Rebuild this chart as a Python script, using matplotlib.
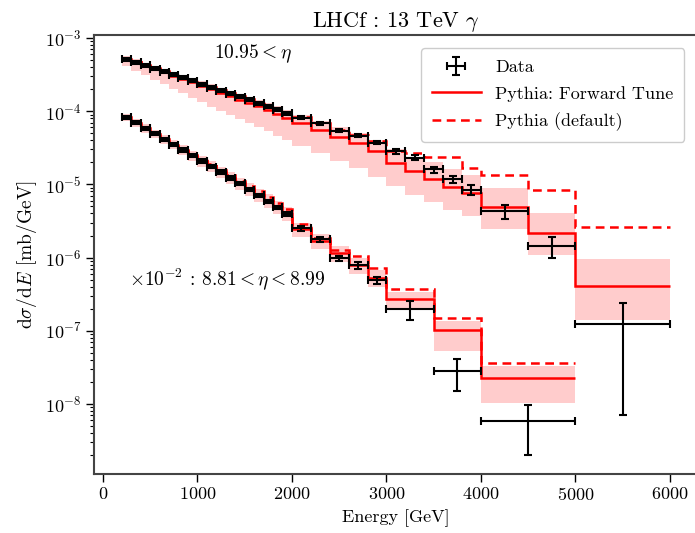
import numpy as np
import matplotlib
matplotlib.use("Agg")
import matplotlib.pyplot as plt

plt.rcParams['font.family'] = 'serif'
plt.rcParams['font.serif'] = ['cmr10', 'DejaVu Serif']
plt.rcParams['mathtext.fontset'] = 'cm'
plt.rcParams['axes.formatter.use_mathtext'] = True

# --- 10.95 < eta : bin edges [GeV] and dsigma/dE [mb/GeV]
edges_hi = [200, 300, 400, 500, 600, 700, 800, 900, 1000, 1100, 1200, 1300, 1400,
            1500, 1600, 1700, 1800, 1900, 2000, 2200, 2400, 2600, 2800, 3000, 3200,
            3400, 3600, 3800, 4000, 4500, 5000, 6000]
data_hi = [5.14e-4, 4.68e-4, 4.26e-4, 3.81e-4, 3.47e-4, 3.16e-4, 2.87e-4, 2.61e-4,
           2.34e-4, 2.10e-4, 1.91e-4, 1.74e-4, 1.58e-4, 1.44e-4, 1.29e-4, 1.16e-4,
           1.05e-4, 9.4e-5, 8.2e-5, 6.8e-5, 5.4e-5, 4.65e-5, 3.73e-5, 2.84e-5,
           2.31e-5, 1.60e-5, 1.17e-5, 8.5e-6, 4.3e-6, 1.44e-6, 1.22e-7]
err_hi = [2.5e-5, 2.2e-5, 2.0e-5, 1.8e-5, 1.6e-5, 1.5e-5, 1.4e-5, 1.2e-5, 1.1e-5,
          1.0e-5, 9e-6, 8e-6, 7.5e-6, 7e-6, 6e-6, 5.5e-6, 5e-6, 4.5e-6, 4e-6, 3.3e-6,
          2.8e-6, 2.4e-6, 2.2e-6, 2.0e-6, 1.8e-6, 1.5e-6, 1.4e-6, 1.4e-6, 0.9e-6,
          0.44e-6, 1.15e-7]
fwd_hi = [5.14e-4, 4.68e-4, 4.19e-4, 3.75e-4, 3.41e-4, 3.06e-4, 2.78e-4, 2.49e-4,
          2.23e-4, 2.00e-4, 1.79e-4, 1.61e-4, 1.44e-4, 1.29e-4, 1.16e-4, 1.035e-4,
          9.27e-5, 8.18e-5, 6.99e-5, 5.61e-5, 4.50e-5, 3.73e-5, 2.90e-5, 1.97e-5,
          1.51e-5, 1.20e-5, 9.27e-6, 7.68e-6, 4.94e-6, 2.19e-6, 4.08e-7]
fwd_hi_lo = [4.1e-4, 3.6e-4, 3.1e-4, 2.7e-4, 2.35e-4, 2.02e-4, 1.75e-4, 1.52e-4,
             1.32e-4, 1.14e-4, 1.0e-4, 8.9e-5, 7.8e-5, 6.8e-5, 6.0e-5, 5.3e-5, 4.6e-5,
             4.1e-5, 3.35e-5, 2.65e-5, 2.07e-5, 1.68e-5, 1.25e-5, 9.45e-6, 7.2e-6,
             5.8e-6, 4.5e-6, 3.75e-6, 2.43e-6, 1.07e-6, 1.40e-7]
fwd_hi_up = [5.6e-4, 5.1e-4, 4.6e-4, 4.15e-4, 3.8e-4, 3.45e-4, 3.15e-4, 2.85e-4,
             2.57e-4, 2.32e-4, 2.1e-4, 1.9e-4, 1.72e-4, 1.56e-4, 1.42e-4, 1.28e-4,
             1.16e-4, 1.04e-4, 9.0e-5, 7.4e-5, 6.1e-5, 5.1e-5, 4.1e-5, 3.0e-5, 2.4e-5,
             2.0e-5, 1.6e-5, 1.35e-5, 9.0e-6, 4.1e-6, 9.45e-7]
def_hi = [5.25e-4, 4.75e-4, 4.3e-4, 3.85e-4, 3.5e-4, 3.2e-4, 2.9e-4, 2.65e-4, 2.38e-4,
          2.14e-4, 1.95e-4, 1.77e-4, 1.61e-4, 1.47e-4, 1.33e-4, 1.2e-4, 1.08e-4,
          9.8e-5, 8.4e-5, 7.0e-5, 5.6e-5, 4.8e-5, 3.9e-5, 2.9e-5, 2.7e-5, 2.38e-5,
          2.38e-5, 1.68e-5, 1.36e-5, 8.5e-6, 2.61e-6]

# --- 8.81 < eta < 8.99 : drawn scaled by 1e-2
edges_lo = [200, 300, 400, 500, 600, 700, 800, 900, 1000, 1100, 1200, 1300, 1400,
            1500, 1600, 1700, 1800, 1900, 2000, 2200, 2400, 2600, 2800, 3000, 3500,
            4000, 5000]
data_lo = [8.30e-3, 6.99e-3, 5.88e-3, 4.95e-3, 4.16e-3, 3.50e-3, 2.95e-3, 2.48e-3,
           2.09e-3, 1.75e-3, 1.48e-3, 1.22e-3, 1.03e-3, 8.5e-4, 7.06e-4, 5.84e-4,
           4.84e-4, 3.95e-4, 2.50e-4, 1.77e-4, 9.75e-5, 7.83e-5, 4.89e-5, 1.96e-5,
           2.78e-6, 5.88e-7]
err_lo = [4e-4, 3.5e-4, 3e-4, 2.5e-4, 2.1e-4, 1.8e-4, 1.5e-4, 1.3e-4, 1.1e-4, 9e-5,
          8e-5, 6.5e-5, 5.5e-5, 4.6e-5, 3.9e-5, 3.3e-5, 2.8e-5, 2.4e-5, 1.8e-5,
          1.4e-5, 9e-6, 8e-6, 6e-6, 5.7e-6, 1.3e-6, 3.9e-7]
fwd_lo = [8.4e-3, 7.0e-3, 5.9e-3, 4.95e-3, 4.2e-3, 3.5e-3, 2.95e-3, 2.5e-3, 2.1e-3,
          1.76e-3, 1.48e-3, 1.24e-3, 1.04e-3, 8.7e-4, 7.2e-4, 6.0e-4, 4.9e-4, 4.0e-4,
          2.45e-4, 1.7e-4, 1.15e-4, 7.9e-5, 5.32e-5, 2.69e-5, 1.02e-5, 2.25e-6]
fwd_lo_lo = [7.4e-3, 6.1e-3, 5.1e-3, 4.25e-3, 3.6e-3, 3.0e-3, 2.5e-3, 2.1e-3, 1.75e-3,
             1.46e-3, 1.22e-3, 1.02e-3, 8.5e-4, 7.0e-4, 5.8e-4, 4.8e-4, 3.9e-4, 3.15e-4,
             1.9e-4, 1.3e-4, 8.7e-5, 5.9e-5, 3.9e-5, 1.96e-5, 5.3e-6, 1.03e-6]
fwd_lo_up = [9.3e-3, 7.8e-3, 6.6e-3, 5.6e-3, 4.75e-3, 4.0e-3, 3.4e-3, 2.9e-3, 2.45e-3,
             2.06e-3, 1.75e-3, 1.47e-3, 1.24e-3, 1.04e-3, 8.7e-4, 7.3e-4, 6.0e-4, 4.9e-4,
             3.0e-4, 2.1e-4, 1.45e-4, 1.0e-4, 6.8e-5, 3.35e-5, 1.36e-5, 3.31e-6]
def_lo = [8.6e-3, 7.2e-3, 6.1e-3, 5.1e-3, 4.3e-3, 3.65e-3, 3.1e-3, 2.6e-3, 2.2e-3,
          1.87e-3, 1.58e-3, 1.33e-3, 1.12e-3, 9.5e-4, 8.0e-4, 6.7e-4, 5.6e-4, 4.6e-4,
          2.9e-4, 1.85e-4, 1.25e-4, 1.05e-4, 7.28e-5, 3.77e-5, 1.48e-5, 3.57e-6]
scale_lo = 1e-2

red = '#ff0000'
band = '#ffcccc'

fig = plt.figure(figsize=(6.95, 5.33), dpi=100)
ax = fig.add_axes([0.1357, 0.1107, 0.8678, 0.8236])


def draw_set(edges, data, err, fwd, fwd_lo_edge, fwd_up_edge, dflt, scale, label=True):
    e = np.array(edges, dtype=float)
    centers = 0.5 * (e[1:] + e[:-1])
    half = 0.5 * (e[1:] - e[:-1])
    ax.stairs(np.array(fwd_up_edge) * scale, e, baseline=np.array(fwd_lo_edge) * scale,
              fill=True, color=band, lw=0, zorder=1)
    ax.stairs(np.array(fwd) * scale, e, baseline=None, color=red, lw=1.8, zorder=2,
              label='Pythia: Forward Tune' if label else None)
    ax.stairs(np.array(dflt) * scale, e, baseline=None, color=red, lw=1.8,
              ls=(0, (3.5, 2.2)), zorder=2,
              label='Pythia (default)' if label else None)
    ax.errorbar(centers, np.array(data) * scale, xerr=half, yerr=np.array(err) * scale,
                fmt='none', ecolor='black', elinewidth=1.5, capsize=3, capthick=1.5,
                zorder=3, label='Data' if label else None)


draw_set(edges_hi, data_hi, err_hi, fwd_hi, fwd_hi_lo, fwd_hi_up, def_hi, 1.0)
draw_set(edges_lo, data_lo, err_lo, fwd_lo, fwd_lo_lo, fwd_lo_up, def_lo, scale_lo, label=False)

ax.set_yscale('log')
ax.set_xlim(-90, 6290)
ax.set_ylim(1.1e-9, 1.1e-3)
ax.set_xticks([0, 1000, 2000, 3000, 4000, 5000, 6000])
ax.tick_params(which='major', length=5.5, width=1.0, labelsize=13)
ax.tick_params(which='minor', length=3, width=0.8)
for s in ax.spines.values():
    s.set_color('#444444')
    s.set_linewidth(1.5)

ax.set_xlabel('Energy [GeV]', fontsize=13)
ax.set_ylabel(r'd$\sigma$/d$E$ [mb/GeV]', fontsize=14)
ax.set_title(r'LHCf : 13 TeV $\gamma$', fontsize=16)

ax.text(1585, 6.1e-4, r'$10.95 < \eta$', fontsize=14, ha='center', va='center')
ax.text(280, 5.05e-7, r'$\times 10^{-2}$ : $8.81 < \eta < 8.99$', fontsize=14,
        ha='left', va='center')

handles, labels = ax.get_legend_handles_labels()
order = [labels.index('Data'), labels.index('Pythia: Forward Tune'),
         labels.index('Pythia (default)')]
ax.legend([handles[i] for i in order], [labels[i] for i in order],
          loc='upper right', fontsize=13, frameon=True, framealpha=1,
          edgecolor='#cccccc', fancybox=True, handlelength=2.7,
          labelspacing=0.6, borderpad=0.6, bbox_to_anchor=(0.993, 0.99))

fig.savefig('out.png', dpi=100)
